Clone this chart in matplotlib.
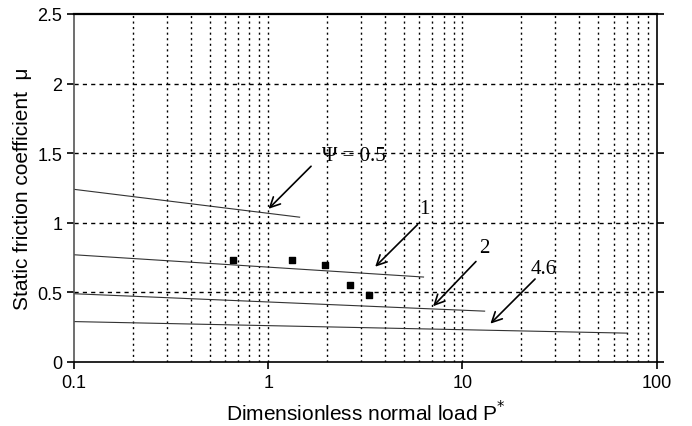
import matplotlib.pyplot as plt
import numpy as np
from matplotlib.ticker import FixedLocator, NullFormatter

# friction curves for each plasticity index psi: (start, end) in P* and mu
psi_labels = ["\u03a8 = 0.5", "1", "2", "4.6"]
curve_p = [[0.1, 1.45], [0.1, 6.3], [0.1, 13.0], [0.1, 70.0]]
curve_mu = [[1.24, 1.04], [0.77, 0.61], [0.49, 0.365], [0.29, 0.207]]

# arrow tip / tail and label position for each curve
tip_p = [0.98, 3.47, 6.9, 13.6]
tip_mu = [1.086, 0.67, 0.386, 0.261]
tail_p = [1.70, 6.0, 12.0, 24.2]
tail_mu = [1.42, 1.0, 0.736, 0.61]
text_p = [2.75, 6.4, 13.0, 26.3]
text_mu = [1.48, 1.10, 0.82, 0.67]

# measured points
exp_p = [0.66, 1.32, 1.97, 2.63, 3.31]
exp_mu = [0.73, 0.73, 0.695, 0.554, 0.48]

plt.rcParams['font.family'] = ['Liberation Sans', 'DejaVu Sans']

fig = plt.figure(figsize=(6.92, 4.27), dpi=100)
ax = fig.add_axes([0.107, 0.150, 0.842, 0.815])

ax.set_xscale('log')
ax.set_xlim(0.1, 100)
ax.set_ylim(0, 2.5)

for p, mu in zip(curve_p, curve_mu):
    ax.plot(p, mu, color='#333333', lw=0.8)

ax.scatter(exp_p, exp_mu, marker='s', s=16, color='black', zorder=3)

for i in range(len(psi_labels)):
    ax.annotate('', xy=(tip_p[i], tip_mu[i]), xytext=(tail_p[i], tail_mu[i]),
                arrowprops=dict(arrowstyle='->', color='black', lw=1.2,
                                mutation_scale=18))
    ax.text(text_p[i], text_mu[i], psi_labels[i], ha='center', va='center',
            fontsize=15, family=['Liberation Serif', 'DejaVu Serif'])

# grid: dotted verticals at every decade step, dashed horizontals
grid_x = [m * 10.0 ** e for e in (-1, 0, 1) for m in range(1, 10)][1:]
for gx in grid_x:
    ax.axvline(gx, color='black', lw=1.0, ls=(0, (1.5, 2.5)), zorder=0)
for gy in [0.5, 1, 1.5, 2]:
    ax.axhline(gy, color='black', lw=1.0, ls=(0, (3, 3)), zorder=0)

ax.xaxis.set_major_locator(FixedLocator([0.1, 1, 10, 100]))
ax.xaxis.set_minor_locator(FixedLocator([]))
ax.xaxis.set_minor_formatter(NullFormatter())
ax.set_xticklabels(["0.1", "1", "10", "100"])
ax.set_yticks([0, 0.5, 1, 1.5, 2, 2.5])
ax.set_yticklabels(["0", "0.5", "1", "1.5", "2", "2.5"])
ax.tick_params(direction='out', length=5, width=1.2, labelsize=13,
               right=True, colors='black')

for side in ['left', 'bottom', 'right']:
    ax.spines[side].set_linewidth(1.2)
ax.spines['top'].set_linewidth(1.6)
ax.spines['left'].set_color('#555555')

ax.set_xlabel("Dimensionless normal load P$^{*}$", fontsize=15, labelpad=6)
ax.set_ylabel("Static friction coefficient  \u03bc", fontsize=15, labelpad=4)

fig.savefig('out.png', dpi=100)
